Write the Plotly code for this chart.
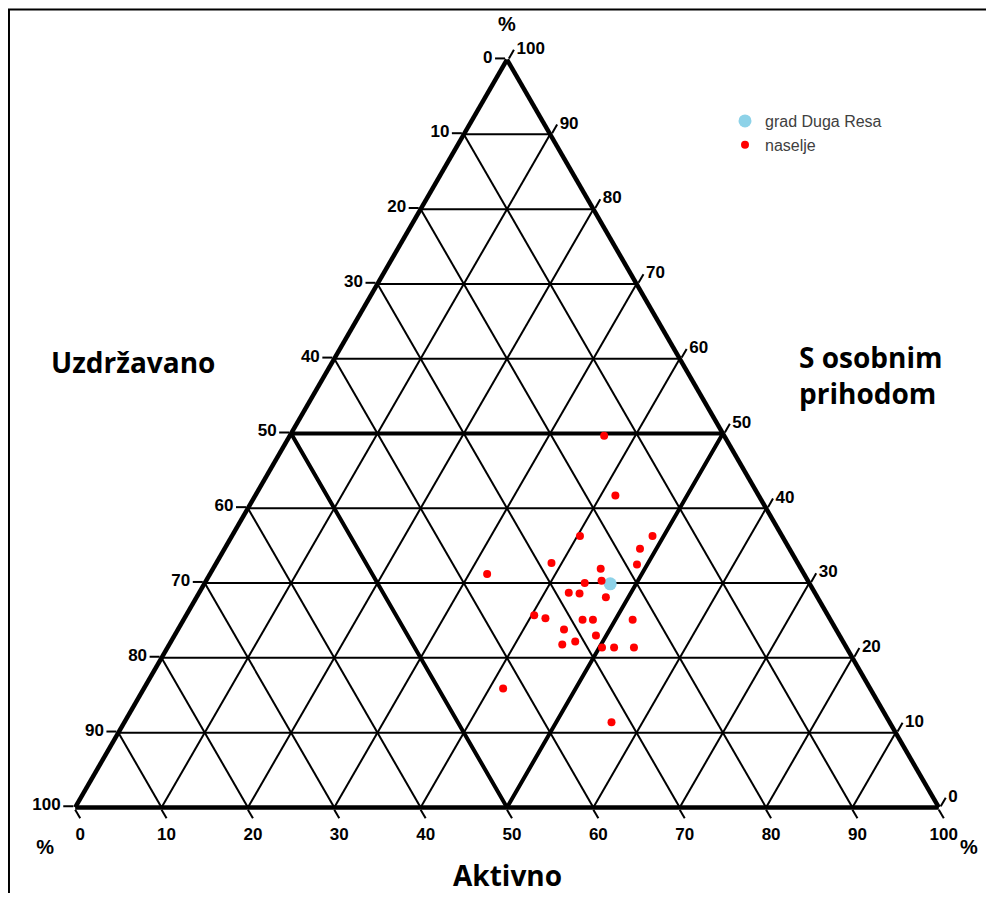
import plotly.graph_objects as go

# Ternary components (percent): S = "S osobnim prihodom", A = "Aktivno", U = "Uzdržavano"
grad_S = [29.9]
grad_A = [47.0]
grad_U = [23.1]

naselje_S = [49.7, 41.7, 36.3, 36.3, 34.6, 32.7, 32.5, 31.9, 31.2, 30.0, 30.3, 28.7, 28.6, 28.1,
             25.7, 25.3, 25.1, 25.1, 25.1, 23.8, 23.0, 22.2, 21.8, 21.4, 21.4, 21.4, 15.9, 11.4]
naselje_A = [36.4, 41.7, 40.3, 48.7, 48.1, 38.8, 48.8, 44.9, 32.1, 44.0, 45.8, 42.8, 44.1, 47.4,
             40.3, 41.8, 46.2, 47.4, 52.0, 44.7, 48.8, 46.8, 45.5, 50.3, 51.7, 54.0, 41.6, 56.4]
naselje_U = [round(100 - s - a, 1) for s, a in zip(naselje_S, naselje_A)]

tick_vals = list(range(0, 101, 10))
tick_text = [str(100 - v) for v in tick_vals]
major = 50

W, H = 978, 885  # page body adds an 8px margin around the figure


def px(X):
    return (X - 8) / W


def py(Y):
    return 1 - (Y - 8) / H


fig = go.Figure()

# thick inner triangle at 50 %
fig.add_trace(go.Scatterternary(
    a=[major, major, 0, major], b=[major, 0, major, major], c=[0, major, major, 0],
    mode="lines", line=dict(color="black", width=4), showlegend=False, hoverinfo="skip"))

fig.add_trace(go.Scatterternary(
    a=grad_S, b=grad_U, c=grad_A, mode="markers", name="grad Duga Resa",
    marker=dict(color="#8dd2e8", size=13)))
fig.add_trace(go.Scatterternary(
    a=naselje_S, b=naselje_U, c=naselje_A, mode="markers", name="naselje",
    marker=dict(color="#ff0000", size=8)))

tickfont = dict(family="Liberation Sans", size=17, color="black", weight="bold")
titlefont = dict(family="Liberation Sans", size=20, color="black", weight="bold")


def axis():
    return dict(
        min=0, tickmode="array", tickvals=tick_vals, ticktext=tick_text,
        showgrid=True, gridcolor="black", gridwidth=1.8,
        showline=True, linecolor="black", linewidth=4.5,
        ticks="outside", ticklen=10, tickwidth=2, tickcolor="black",
        tickfont=tickfont, title=dict(text="%", font=titlefont))


label_font = dict(family="Open Sans", size=28, color="black")

fig.update_layout(
    width=W, height=H,
    paper_bgcolor="white", plot_bgcolor="white",
    margin=dict(l=0, r=0, t=0, b=0),
    ternary=dict(
        sum=100, bgcolor="white",
        domain=dict(x=[px(75.2), px(938.8)], y=[py(807.5), py(59.5)]),
        aaxis=axis(), baxis=axis(), caxis=axis()),
    legend=dict(x=px(725), y=py(104), xanchor="left", yanchor="top",
                font=dict(family="Liberation Sans", size=16, color="#404040"),
                bgcolor="rgba(0,0,0,0)", itemsizing="trace", tracegroupgap=0),
    annotations=[
        dict(text="<b>Uzdržavano</b>", x=px(133), y=py(362), xref="paper", yref="paper",
             xanchor="center", yanchor="middle", showarrow=False, font=label_font),
        dict(text="<b>S osobnim<br>prihodom</b>", x=px(797), y=py(375), xref="paper",
             yref="paper", xanchor="left", yanchor="middle", align="left", showarrow=False,
             font=label_font),
        dict(text="<b>Aktivno</b>", x=px(507), y=py(875), xref="paper", yref="paper",
             xanchor="center", yanchor="middle", showarrow=False, font=label_font),
    ],
    shapes=[dict(type="rect", xref="paper", yref="paper", x0=0.001, x1=1.02, y0=-0.02,
                 y1=py(9.5), line=dict(color="black", width=2))],
)

fig.write_html("out.html")
